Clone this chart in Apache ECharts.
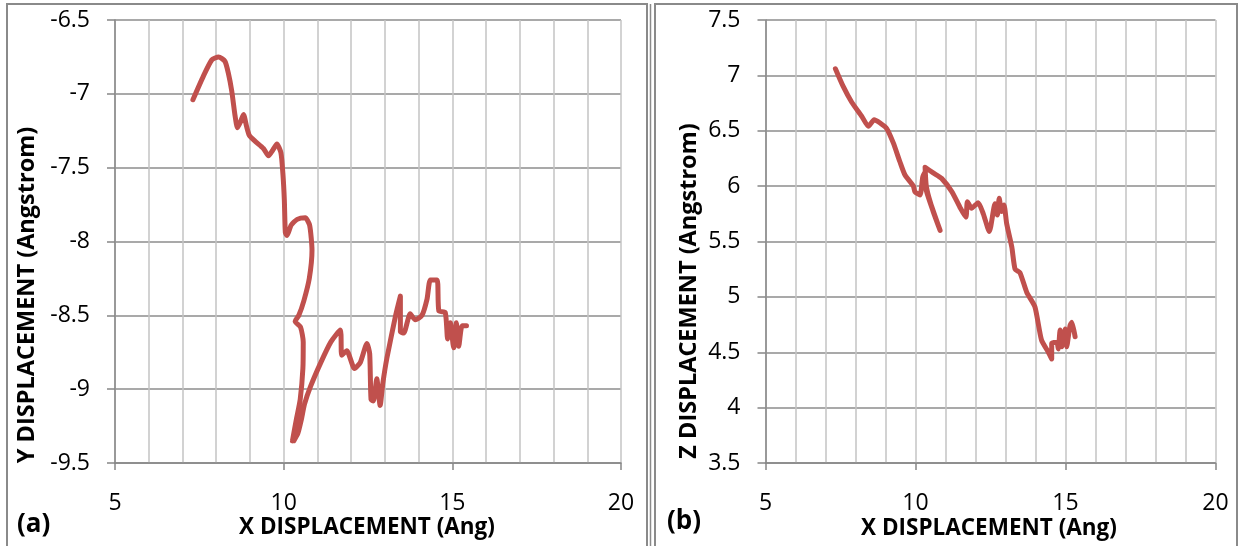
<!DOCTYPE html>
<html>
<head>
<meta charset="utf-8">
<script src="https://cdn.jsdelivr.net/npm/echarts@6/dist/echarts.min.js"></script>
<style>
  html, body { margin: 0; padding: 0; background: #ffffff; }
  #chart { width: 1241px; height: 546px; }
</style>
</head>
<body>
<div id="chart"></div>
<script>
// Panel (a): trajectory in the X-Y plane
const aX = [7.31, 7.62, 7.87, 8.07, 8.26, 8.36, 8.46, 8.56, 8.63, 8.72, 8.81, 8.90, 8.98, 9.15, 9.40, 9.55, 9.68, 9.80, 9.92, 9.98,
  10.02, 10.05, 10.10, 10.22, 10.40, 10.64, 10.77, 10.84, 10.76, 10.60, 10.45, 10.34, 10.50, 10.58, 10.57, 10.49, 10.38, 10.26, 10.32, 10.30,
  10.42, 10.52, 10.62, 10.80, 11.10, 11.40, 11.68, 11.72, 11.87, 12.10, 12.27, 12.47, 12.55, 12.59, 12.66, 12.76, 12.86, 12.94, 13.06, 13.32,
  13.46, 13.46, 13.56, 13.75, 13.90, 14.10, 14.25, 14.35, 14.55, 14.60, 14.79, 14.86, 14.94, 15.04, 15.12, 15.19, 15.29, 15.42];
const aY = [-7.04, -6.88, -6.77, -6.75, -6.78, -6.86, -6.98, -7.15, -7.23, -7.19, -7.14, -7.22, -7.28, -7.32, -7.37, -7.42, -7.38, -7.34, -7.40, -7.55,
  -7.72, -7.94, -7.96, -7.89, -7.85, -7.84, -7.89, -8.06, -8.25, -8.40, -8.50, -8.54, -8.58, -8.68, -8.86, -9.07, -9.20, -9.35, -9.28, -9.35,
  -9.30, -9.21, -9.10, -8.98, -8.82, -8.68, -8.60, -8.77, -8.74, -8.86, -8.82, -8.69, -8.76, -9.07, -9.08, -8.93, -9.11, -8.96, -8.79, -8.50,
  -8.37, -8.61, -8.62, -8.49, -8.53, -8.50, -8.39, -8.26, -8.26, -8.47, -8.48, -8.66, -8.55, -8.72, -8.55, -8.71, -8.57, -8.57];

// Panel (b): trajectory in the X-Z plane
const bX = [7.33, 7.59, 7.87, 8.21, 8.43, 8.62, 8.82, 9.04, 9.26, 9.48, 9.65, 9.93, 9.98, 10.15, 10.24, 10.30, 10.36, 10.59, 10.82, 10.50,
  10.36, 10.32, 10.59, 10.87, 11.21, 11.48, 11.68, 11.73, 11.87, 12.09, 12.26, 12.46, 12.65, 12.73, 12.79, 12.87, 12.95, 13.04, 13.21, 13.32,
  13.48, 13.71, 13.98, 14.20, 14.43, 14.54, 14.54, 14.71, 14.76, 14.82, 14.88, 14.99, 15.04, 15.15, 15.21, 15.32];
const bZ = [7.06, 6.90, 6.76, 6.63, 6.54, 6.60, 6.57, 6.52, 6.39, 6.22, 6.10, 6.00, 5.95, 5.92, 6.08, 6.12, 5.96, 5.77, 5.60, 5.85,
  6.00, 6.17, 6.12, 6.07, 5.95, 5.81, 5.72, 5.86, 5.80, 5.85, 5.75, 5.59, 5.84, 5.74, 5.89, 5.77, 5.83, 5.66, 5.45, 5.25,
  5.22, 5.04, 4.91, 4.61, 4.50, 4.44, 4.58, 4.59, 4.53, 4.70, 4.55, 4.71, 4.55, 4.74, 4.77, 4.64];

// Axis ranges
const xRange = { min: 5, max: 20, step: 5 };
const yRange = { min: -9.5, max: -6.5, step: 0.5 };
const zRange = { min: 3.5, max: 7.5, step: 0.5 };

const xTitle = 'X DISPLACEMENT (Ang)';
const yTitle = 'Y DISPLACEMENT (Angstrom)';
const zTitle = 'Z DISPLACEMENT (Angstrom)';

const FONT = "'Open Sans', 'Noto Sans', sans-serif";
const LINE_RED = '#c0504d';

const pairs = (xs, ys) => xs.map((x, i) => [x, ys[i]]);

function xAxisFor(gridIndex) {
  return {
    type: 'value', gridIndex,
    min: xRange.min, max: xRange.max, interval: xRange.step,
    axisLine: { show: true, lineStyle: { color: '#868686', width: 1.5 } },
    axisTick: { show: true, length: 7, lineStyle: { color: '#868686', width: 1.5 } },
    axisLabel: { color: '#000', fontFamily: FONT, fontSize: 23, margin: 29 },
    splitLine: { show: true, lineStyle: { color: '#c4c4c4', width: 1.5 } },
    minorTick: { show: false, splitNumber: 5 },
    minorSplitLine: { show: true, lineStyle: { color: '#c4c4c4', width: 1.5 } }
  };
}

function yAxisFor(gridIndex, r) {
  return {
    type: 'value', gridIndex,
    min: r.min, max: r.max, interval: r.step,
    axisLine: { show: true, onZero: false, lineStyle: { color: '#868686', width: 1.5 } },
    axisTick: { show: true, length: 8, lineStyle: { color: '#868686', width: 1.5 } },
    axisLabel: { color: '#000', fontFamily: FONT, fontSize: 23, margin: 25 },
    splitLine: { show: true, lineStyle: { color: '#8c8c8c', width: 1.5 } }
  };
}

const xTitleFont = "bold 22.5px " + FONT;
const yTitleFont = "bold 23.5px " + FONT;

const chart = echarts.init(document.getElementById('chart'), null, { renderer: 'canvas' });
chart.setOption({
  backgroundColor: '#ffffff',
  animation: false,
  grid: [
    { left: 115, top: 20, width: 506, height: 443 },
    { left: 765.5, top: 20, width: 450, height: 443 }
  ],
  xAxis: [xAxisFor(0), xAxisFor(1)],
  yAxis: [yAxisFor(0, yRange), yAxisFor(1, zRange)],
  series: [
    {
      type: 'line', xAxisIndex: 0, yAxisIndex: 0,
      data: pairs(aX, aY), showSymbol: false, smooth: 0.2,
      lineStyle: { color: LINE_RED, width: 5, cap: 'round', join: 'round' }
    },
    {
      type: 'line', xAxisIndex: 1, yAxisIndex: 1,
      data: pairs(bX, bZ), showSymbol: false, smooth: 0.2,
      lineStyle: { color: LINE_RED, width: 5, cap: 'round', join: 'round' }
    }
  ],
  graphic: [
    // panel frames
    { type: 'rect', shape: { x: 7, y: 4, width: 640, height: 560 }, style: { fill: 'none', stroke: '#8a8a8a', lineWidth: 2 }, silent: true },
    { type: 'line', shape: { x1: 650.5, y1: 4, x2: 650.5, y2: 546 }, style: { stroke: '#8a8a8a', lineWidth: 1.5 }, silent: true },
    { type: 'rect', shape: { x: 655, y: 4, width: 582, height: 560 }, style: { fill: 'none', stroke: '#8a8a8a', lineWidth: 2 }, silent: true },
    // axis titles
    { type: 'text', x: 367, y: 528, style: { text: xTitle, font: xTitleFont, fill: '#000', textAlign: 'center', textVerticalAlign: 'middle' } },
    { type: 'text', x: 989, y: 529, style: { text: xTitle, font: xTitleFont, fill: '#000', textAlign: 'center', textVerticalAlign: 'middle' } },
    { type: 'text', x: 27, y: 295, rotation: Math.PI / 2, style: { text: yTitle, font: yTitleFont, fill: '#000', textAlign: 'center', textVerticalAlign: 'middle' } },
    { type: 'text', x: 689, y: 291, rotation: Math.PI / 2, style: { text: zTitle, font: yTitleFont, fill: '#000', textAlign: 'center', textVerticalAlign: 'middle' } },
    // panel tags
    { type: 'text', x: 17, y: 525, style: { text: '(a)', font: "bold 26px " + FONT, fill: '#000', textAlign: 'left', textVerticalAlign: 'middle' } },
    { type: 'text', x: 667, y: 522, style: { text: '(b)', font: "bold 26px " + FONT, fill: '#000', textAlign: 'left', textVerticalAlign: 'middle' } }
  ]
});
</script>
</body>
</html>
